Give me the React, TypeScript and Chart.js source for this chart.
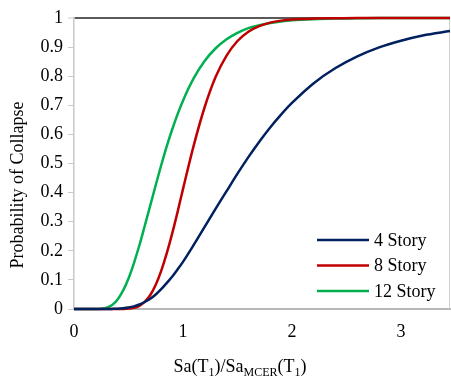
import React, { useEffect, useRef } from 'react';
import { Chart, registerables } from 'chart.js';
Chart.register(...registerables);

const xValues = [0, 0.1, 0.2, 0.25, 0.3, 0.35, 0.4, 0.45, 0.5, 0.55, 0.6, 0.65, 0.7, 0.75, 0.8, 0.85, 0.9, 0.95, 1.0, 1.1, 1.2, 1.3, 1.4, 1.5, 1.6, 1.7, 1.8, 1.9, 2.0, 2.2, 2.4, 2.6, 2.8, 3.0, 3.2, 3.45];
const story4 = [0, 0, 0, 0, 0.0001, 0.0004, 0.001, 0.0025, 0.005, 0.009, 0.0155, 0.024, 0.035, 0.05, 0.068, 0.089, 0.111, 0.136, 0.162, 0.221, 0.283, 0.345, 0.405, 0.465, 0.522, 0.575, 0.624, 0.668, 0.708, 0.776, 0.828, 0.868, 0.899, 0.922, 0.94, 0.955];
const story8 = [0, 0, 0, 0, 0, 0, 0, 0.0003, 0.0013, 0.004, 0.011, 0.025, 0.048, 0.083, 0.131, 0.19, 0.258, 0.333, 0.412, 0.564, 0.695, 0.798, 0.871, 0.921, 0.953, 0.972, 0.984, 0.991, 0.995, 0.998, 0.999, 1, 1, 1, 1, 1];
const story12 = [0, 0, 0.0001, 0.001, 0.0047, 0.014, 0.033, 0.063, 0.105, 0.158, 0.219, 0.287, 0.356, 0.426, 0.494, 0.558, 0.616, 0.669, 0.716, 0.794, 0.853, 0.896, 0.927, 0.949, 0.965, 0.975, 0.983, 0.988, 0.992, 0.996, 0.998, 0.999, 1, 1, 1, 1];
const seriesLabels = ['4 Story', '8 Story', '12 Story'];
const seriesColors = ['#002060', '#C00000', '#00B050'];
const xTicks = [0, 1, 2, 3];
const yTitle = 'Probability of Collapse';
const xTitleParts: [string, boolean][] = [['Sa(T', false], ['1', true], [')/Sa', false], ['MCER', true], ['(T', false], ['1', true], [')', false]];

const FONT = "'Liberation Serif', 'Times New Roman', serif";

const decorPlugin = {
  id: 'decor',
  beforeDatasetsDraw(chart: any) {
    const { ctx, chartArea } = chart;
    ctx.save();
    ctx.strokeStyle = '#d0d0d0';
    ctx.lineWidth = 1;
    ctx.beginPath();
    ctx.moveTo(chartArea.right - 0.5, chartArea.top);
    ctx.lineTo(chartArea.right - 0.5, chartArea.bottom);
    ctx.stroke();
    ctx.restore();
  },
  afterDraw(chart: any) {
    const { ctx, chartArea } = chart;
    ctx.save();
    ctx.fillStyle = '#000';
    ctx.font = `18px ${FONT}`;
    ctx.textAlign = 'center';
    ctx.textBaseline = 'middle';
    ctx.translate(18.5, chartArea.top + 167);
    ctx.rotate(-Math.PI / 2);
    ctx.fillText(yTitle, 0, 0);
    ctx.restore();

    ctx.save();
    ctx.fillStyle = '#000';
    ctx.textBaseline = 'alphabetic';
    ctx.textAlign = 'left';
    const mainF = `18px ${FONT}`;
    const subF = `12px ${FONT}`;
    let total = 0;
    for (const [t, sub] of xTitleParts) {
      ctx.font = sub ? subF : mainF;
      total += ctx.measureText(t).width;
    }
    let x = chartArea.left + 166 - total / 2;
    const base = chartArea.bottom + 63;
    for (const [t, sub] of xTitleParts) {
      ctx.font = sub ? subF : mainF;
      ctx.fillText(t, x, sub ? base + 4 : base);
      x += ctx.measureText(t).width;
    }
    ctx.restore();

    ctx.save();
    const rows = [chartArea.bottom - 69, chartArea.bottom - 43.5, chartArea.bottom - 18];
    chart.data.datasets.forEach((ds: any, i: number) => {
      const y = rows[i];
      ctx.strokeStyle = ds.borderColor;
      ctx.lineWidth = 2.5;
      ctx.beginPath();
      ctx.moveTo(chartArea.right - 133, y);
      ctx.lineTo(chartArea.right - 81, y);
      ctx.stroke();
      ctx.fillStyle = '#000';
      ctx.font = `18px ${FONT}`;
      ctx.textAlign = 'left';
      ctx.textBaseline = 'middle';
      ctx.fillText(ds.label, chartArea.right - 76, y + 1);
    });
    ctx.restore();
  },
};

export default function App() {
  const ref = useRef<HTMLCanvasElement>(null);
  useEffect(() => {
    document.body.style.margin = '0';
    const mk = (vals: number[]) => xValues.map((x, i) => ({ x, y: vals[i] }));
    const all = [story4, story8, story12];
    const chart = new Chart(ref.current!, {
      type: 'line',
      data: {
        datasets: all.map((vals, i) => ({
          label: seriesLabels[i],
          data: mk(vals),
          borderColor: seriesColors[i],
          backgroundColor: seriesColors[i],
          borderWidth: 2.5,
          pointRadius: 0,
          cubicInterpolationMode: 'monotone' as const,
          fill: false,
          clip: 4,
        })),
      },
      options: {
        animation: false,
        responsive: false,
        maintainAspectRatio: false,
        layout: { padding: { top: 18, right: 1, left: 0, bottom: 0 } },
        plugins: { legend: { display: false }, tooltip: { enabled: false } },
        scales: {
          x: {
            type: 'linear',
            min: 0,
            max: 3.45,
            afterFit: (s: any) => { s.height = 69; },
            afterBuildTicks: (s: any) => { s.ticks = xTicks.map((v) => ({ value: v })); },
            ticks: { font: { family: FONT, size: 18 }, color: '#000', padding: 12, includeBounds: false, maxRotation: 0 },
            grid: { display: false, drawTicks: false },
            border: { display: true, color: '#b8b8b8', width: 2 },
          },
          y: {
            min: 0,
            max: 1,
            afterFit: (s: any) => { s.width = 74; },
            ticks: {
              stepSize: 0.1,
              font: { family: FONT, size: 18 },
              color: '#000',
              padding: 5,
              callback: (v: any) => String(Math.round(Number(v) * 10) / 10),
            },
            grid: {
              color: (c: any) => (c.tick && Math.abs(c.tick.value - 1) < 1e-6 ? '#595959' : 'rgba(0,0,0,0)'),
              lineWidth: (c: any) => (c.tick && Math.abs(c.tick.value - 1) < 1e-6 ? 2 : 1),
              tickColor: '#c8c8c8',
              tickLength: 6,
              tickWidth: 1,
            },
            border: { display: true, color: '#c8c8c8', width: 1.5 },
          },
        },
      },
      plugins: [decorPlugin],
    });
    return () => chart.destroy();
  }, []);
  return (
    <div style={{ width: 451, height: 378 }}>
      <canvas ref={ref} width={451} height={378} style={{ display: 'block', width: 451, height: 378 }} />
    </div>
  );
}
